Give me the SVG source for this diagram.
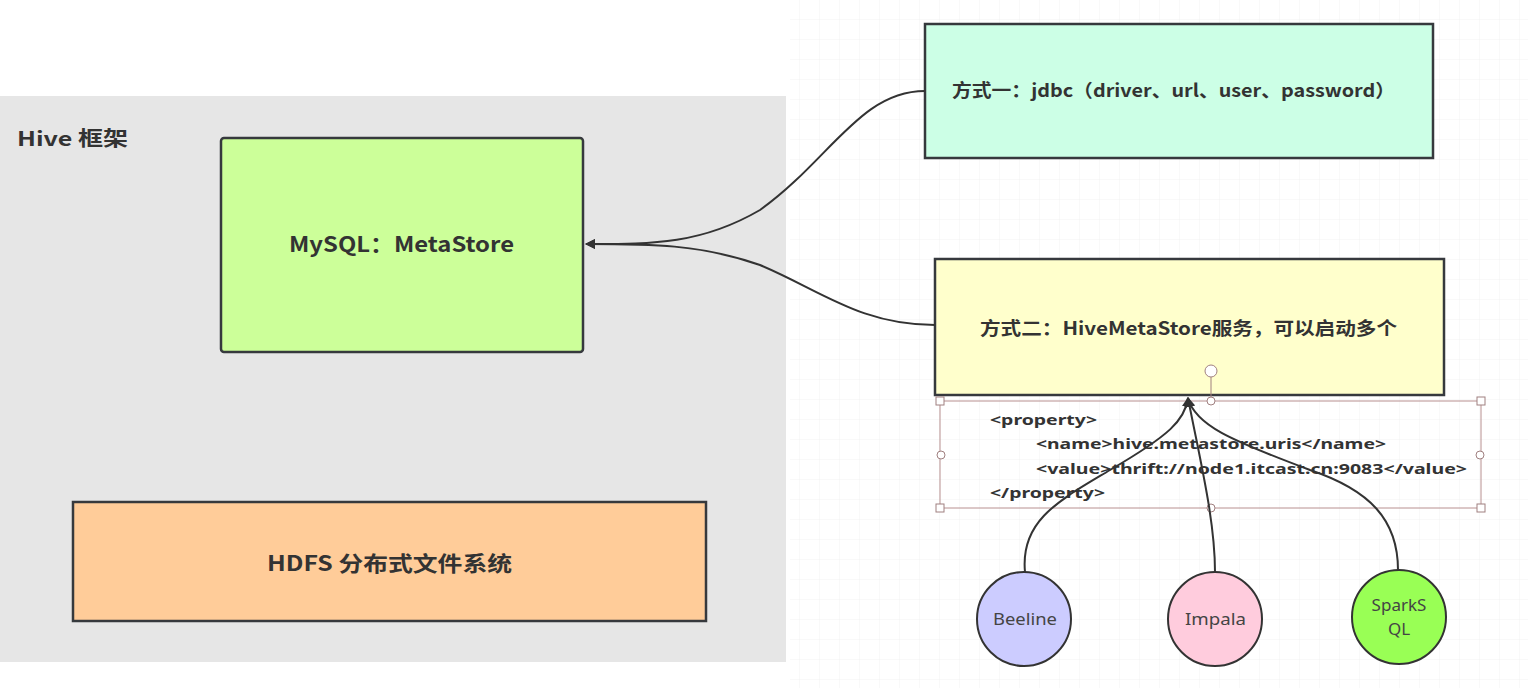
<svg xmlns="http://www.w3.org/2000/svg" width="1528" height="688" viewBox="0 0 1528 688">
<style>
.box{stroke:#36393d;stroke-width:2.5}
.t{font-family:"Noto Sans CJK SC","Noto Sans",sans-serif;font-weight:bold;fill:#333}
.c{font-family:"Noto Sans","Noto Sans CJK SC",sans-serif;font-size:17px;fill:#444}
.x{font-family:"Noto Sans","Noto Sans CJK SC",sans-serif;font-size:15px;font-weight:bold;fill:#333}
.e{fill:none;stroke:#333;stroke-width:2}
.h{fill:#fff;stroke:#a08080;stroke-width:1}
</style>
<defs>
<pattern id="grid" width="20" height="20" patternUnits="userSpaceOnUse">
<path d="M20 0V20M0 20H20" fill="none" stroke="#f2f2f2" stroke-width="1"/>
</pattern>
<marker id="arr" viewBox="0 0 10 10" refX="9" refY="5" markerWidth="5" markerHeight="5" orient="auto">
<path d="M0 0L10 5L0 10z" fill="#333"/>
</marker>
</defs>
<rect width="1528" height="688" fill="#fff"/>
<rect x="790" y="0" width="738" height="688" fill="url(#grid)"/>
<g id="hive-frame">
<rect x="0" y="96" width="786" height="566" fill="#e6e6e6"/>
<text class="t" x="17" y="146" font-size="20" textLength="111" lengthAdjust="spacingAndGlyphs">Hive 框架</text>
</g>
<g id="mysql">
<rect class="box" x="221" y="138" width="362" height="214" rx="3" fill="#ccff99"/>
<text class="t" x="289" y="252" font-size="21" textLength="225" lengthAdjust="spacingAndGlyphs">MySQL：MetaStore</text>
</g>
<g id="hdfs">
<rect class="box" x="73" y="502" width="633" height="119" fill="#ffcc99"/>
<text class="t" x="267" y="571" font-size="21" textLength="245" lengthAdjust="spacingAndGlyphs">HDFS 分布式文件系统</text>
</g>
<g id="jdbc">
<rect class="box" x="925" y="24" width="508" height="134" fill="#ccffe6"/>
<text class="t" x="952" y="97" font-size="18" textLength="443" lengthAdjust="spacingAndGlyphs">方式一：jdbc（driver、url、user、password）</text>
</g>
<g id="metastore-service">
<rect class="box" x="935" y="259" width="509" height="136" fill="#ffffcc"/>
<text class="t" x="980" y="335" font-size="18" textLength="417" lengthAdjust="spacingAndGlyphs">方式二：HiveMetaStore服务，可以启动多个</text>
</g>
<g id="xml-note">
<rect x="940" y="401" width="541" height="107" fill="none" stroke="#b89090" stroke-width="1"/>
<text class="x" x="990" y="425" textLength="107" lengthAdjust="spacingAndGlyphs">&lt;property&gt;</text>
<text class="x" x="1036" y="449" textLength="350" lengthAdjust="spacingAndGlyphs">&lt;name&gt;hive.metastore.uris&lt;/name&gt;</text>
<text class="x" x="1036" y="474" textLength="431" lengthAdjust="spacingAndGlyphs">&lt;value&gt;thrift://node1.itcast.cn:9083&lt;/value&gt;</text>
<text class="x" x="990" y="498" textLength="115" lengthAdjust="spacingAndGlyphs">&lt;/property&gt;</text>
<line x1="1211" y1="377" x2="1211" y2="401" stroke="#a08080" stroke-width="1"/>
<circle class="h" cx="1211" cy="371" r="6"/>
<rect class="h" x="936" y="397" width="8" height="8"/>
<rect class="h" x="1477" y="397" width="8" height="8"/>
<rect class="h" x="936" y="504" width="8" height="8"/>
<rect class="h" x="1477" y="504" width="8" height="8"/>
<circle class="h" cx="1211" cy="401" r="4"/>
<circle class="h" cx="1211" cy="508" r="4"/>
<circle class="h" cx="941" cy="455" r="4"/>
<circle class="h" cx="1480" cy="455" r="4"/>
</g>
<g id="beeline">
<circle cx="1024" cy="619" r="47" fill="#ccccff" stroke="#333" stroke-width="2"/>
<text class="c" x="993" y="625" textLength="64" lengthAdjust="spacingAndGlyphs">Beeline</text>
</g>
<g id="impala">
<circle cx="1215" cy="619" r="47" fill="#ffccdd" stroke="#333" stroke-width="2"/>
<text class="c" x="1185" y="625" textLength="61" lengthAdjust="spacingAndGlyphs">Impala</text>
</g>
<g id="sparksql">
<circle cx="1399" cy="617" r="47" fill="#99ff55" stroke="#333" stroke-width="2"/>
<text class="c" x="1399" y="611" text-anchor="middle">SparkS</text>
<text class="c" x="1399" y="635" text-anchor="middle">QL</text>
</g>
<g id="connectors">
<path class="e" d="M925 91C860 91 830 160 760 210C700 245 650 244 586 244" marker-end="url(#arr)"/>
<path class="e" d="M935 325C860 325 820 290 760 265C700 244 650 244 586 244" marker-end="url(#arr)"/>
<path class="e" d="M1025 572C1020 520 1060 500 1110 470C1170 435 1185 420 1188 398" marker-end="url(#arr)"/>
<path class="e" d="M1215 572C1215 520 1200 460 1188 398" marker-end="url(#arr)"/>
<path class="e" d="M1398 570C1398 520 1370 490 1310 470C1230 440 1195 425 1188 398" marker-end="url(#arr)"/>
</g>
</svg>
